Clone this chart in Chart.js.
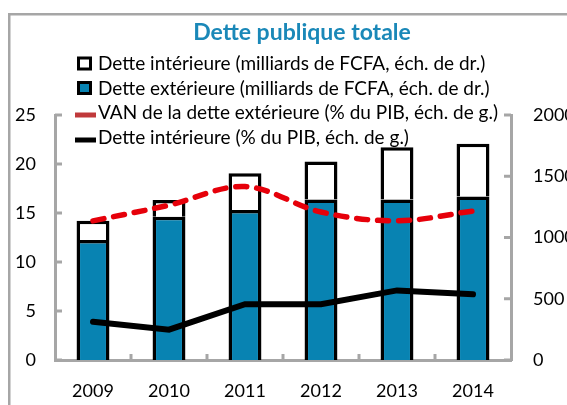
<!DOCTYPE html>
<html>
<head>
<meta charset="utf-8">
<script src="https://cdn.jsdelivr.net/npm/chart.js@4/dist/chart.umd.min.js"></script>
<style>
  html, body { margin: 0; padding: 0; background: #fff; }
  #wrap { width: 567px; height: 405px; position: relative; overflow: hidden; }
</style>
</head>
<body>
<div id="wrap"><canvas id="c" width="567" height="405"></canvas></div>
<script>
// ---- Data ----
const chartTitle = 'Dette publique totale';
const years = ['2009', '2010', '2011', '2012', '2013', '2014'];
const detteExterieureFCFA = [980, 1170, 1225, 1310, 1310, 1335];   // milliards FCFA, right axis
const detteInterieureFCFA = [157, 136, 300, 310, 426, 430];        // milliards FCFA, right axis (stacked)
const vanDetteExterieurePIB = [14.2, 15.8, 17.7, 15.1, 14.2, 15.2]; // % du PIB, left axis
const detteInterieurePIB = [3.9, 3.1, 5.7, 5.7, 7.1, 6.7];          // % du PIB, left axis
const leftTicks = [0, 5, 10, 15, 20, 25];
const rightTicks = [0, 500, 1000, 1500, 2000];
const legendLabels = [
  'Dette intérieure (milliards de FCFA, éch. de dr.)',
  'Dette extérieure (milliards de FCFA, éch. de dr.)',
  'VAN de la dette extérieure (% du PIB, éch. de g.)',
  'Dette intérieure (% du PIB, éch. de g.)'
];

const AXIS = '#a6a6a6';
const BLUE = '#0883b2';
const FONT = 'Lato';

const decor = {
  id: 'decor',
  beforeDraw(chart) {
    const ctx = chart.ctx;
    ctx.save();
    ctx.fillStyle = '#fff';
    ctx.fillRect(0, 0, chart.width, chart.height);
    ctx.strokeStyle = AXIS;
    ctx.lineWidth = 2.5;
    ctx.strokeRect(9.25, 14.25, 700, 500);
    ctx.restore();
  },
  beforeDatasetsDraw(chart) {
    const ctx = chart.ctx, ca = chart.chartArea;
    const yS = chart.scales.y, y1S = chart.scales.y1, xS = chart.scales.x;
    ctx.save();
    ctx.strokeStyle = AXIS;
    ctx.lineWidth = 3;
    ctx.lineCap = 'butt';
    const line = (a, b, c, d) => { ctx.beginPath(); ctx.moveTo(a, b); ctx.lineTo(c, d); ctx.stroke(); };
    leftTicks.forEach(v => { const p = yS.getPixelForValue(v); line(ca.left, p, ca.left + 7, p); });
    rightTicks.forEach(v => { const p = y1S.getPixelForValue(v); line(ca.right - 7, p, ca.right, p); });
    for (let i = 1; i < years.length; i++) {
      const x = (xS.getPixelForValue(i - 1) + xS.getPixelForValue(i)) / 2;
      line(x, ca.bottom, x, ca.bottom - 6);
    }
    ctx.restore();
  },
  afterDraw(chart) {
    const ctx = chart.ctx;
    ctx.save();
    // title
    ctx.fillStyle = '#1a88b8';
    ctx.font = 'bold 23px ' + FONT;
    ctx.textAlign = 'center';
    ctx.textBaseline = 'alphabetic';
    ctx.fillText(chartTitle, 302, 40);
    // legend
    ctx.textAlign = 'left';
    ctx.font = '19px ' + FONT;
    const baselines = [70, 95, 119, 144];
    ctx.lineWidth = 3;
    ctx.strokeStyle = '#000';
    ctx.fillStyle = '#fff';
    ctx.fillRect(78.5, 58, 12, 11); ctx.strokeRect(78.5, 58, 12, 11);
    ctx.fillStyle = BLUE;
    ctx.fillRect(78.5, 82.5, 12, 11); ctx.strokeRect(78.5, 82.5, 12, 11);
    ctx.lineWidth = 5;
    ctx.strokeStyle = '#c0393b';
    ctx.beginPath(); ctx.moveTo(75, 115); ctx.lineTo(96, 115); ctx.stroke();
    ctx.strokeStyle = '#000';
    ctx.beginPath(); ctx.moveTo(75, 140); ctx.lineTo(96, 140); ctx.stroke();
    ctx.fillStyle = '#000';
    legendLabels.forEach((t, i) => ctx.fillText(t, 98, baselines[i]));
    ctx.restore();
  }
};

const tickFont = { family: FONT, size: 18 };

new Chart(document.getElementById('c'), {
  data: {
    labels: years,
    datasets: [
      {
        type: 'line', label: legendLabels[3], data: detteInterieurePIB, yAxisID: 'y',
        borderColor: '#000', borderWidth: 6, borderCapStyle: 'round', tension: 0,
        pointRadius: 0, order: 0
      },
      {
        type: 'line', label: legendLabels[2], data: vanDetteExterieurePIB, yAxisID: 'y',
        borderColor: '#e6000a', borderWidth: 5.5, borderDash: [11, 10], borderCapStyle: 'round',
        tension: 0.35, pointRadius: 0, order: 1
      },
      {
        type: 'bar', label: legendLabels[1], data: detteExterieureFCFA, yAxisID: 'y1',
        backgroundColor: BLUE, borderColor: '#000', borderWidth: 3.5, stack: 's',
        barPercentage: 0.433, categoryPercentage: 1, order: 2
      },
      {
        type: 'bar', label: legendLabels[0], data: detteInterieureFCFA, yAxisID: 'y1',
        backgroundColor: '#fff', borderColor: '#000', borderWidth: 3.5, stack: 's',
        barPercentage: 0.433, categoryPercentage: 1, order: 2
      }
    ]
  },
  options: {
    responsive: false,
    animation: false,
    layout: { padding: { top: 115, left: 0, right: 0, bottom: 0 } },
    plugins: { legend: { display: false }, title: { display: false }, tooltip: { enabled: false } },
    scales: {
      x: {
        stacked: true,
        grid: { display: false, drawTicks: false },
        border: { display: true, color: AXIS, width: 3 },
        ticks: { color: '#000', font: tickFont, padding: 20 },
        afterFit(s) { s.height = 45; }
      },
      y: {
        position: 'left', min: 0, max: 25,
        grid: { display: false, drawTicks: false },
        border: { display: true, color: AXIS, width: 3 },
        ticks: { color: '#000', font: tickFont, padding: 19, callback: v => String(v) },
        afterBuildTicks(s) { s.ticks = leftTicks.map(v => ({ value: v })); },
        afterFit(s) { s.width = 55; }
      },
      y1: {
        position: 'right', min: 0, max: 2000, stacked: true,
        grid: { display: false, drawTicks: false },
        border: { display: true, color: AXIS, width: 3 },
        ticks: { color: '#000', font: tickFont, padding: 22, callback: v => String(v) },
        afterBuildTicks(s) { s.ticks = rightTicks.map(v => ({ value: v })); },
        afterFit(s) { s.width = 56; }
      }
    }
  },
  plugins: [decor]
});
</script>
</body>
</html>
